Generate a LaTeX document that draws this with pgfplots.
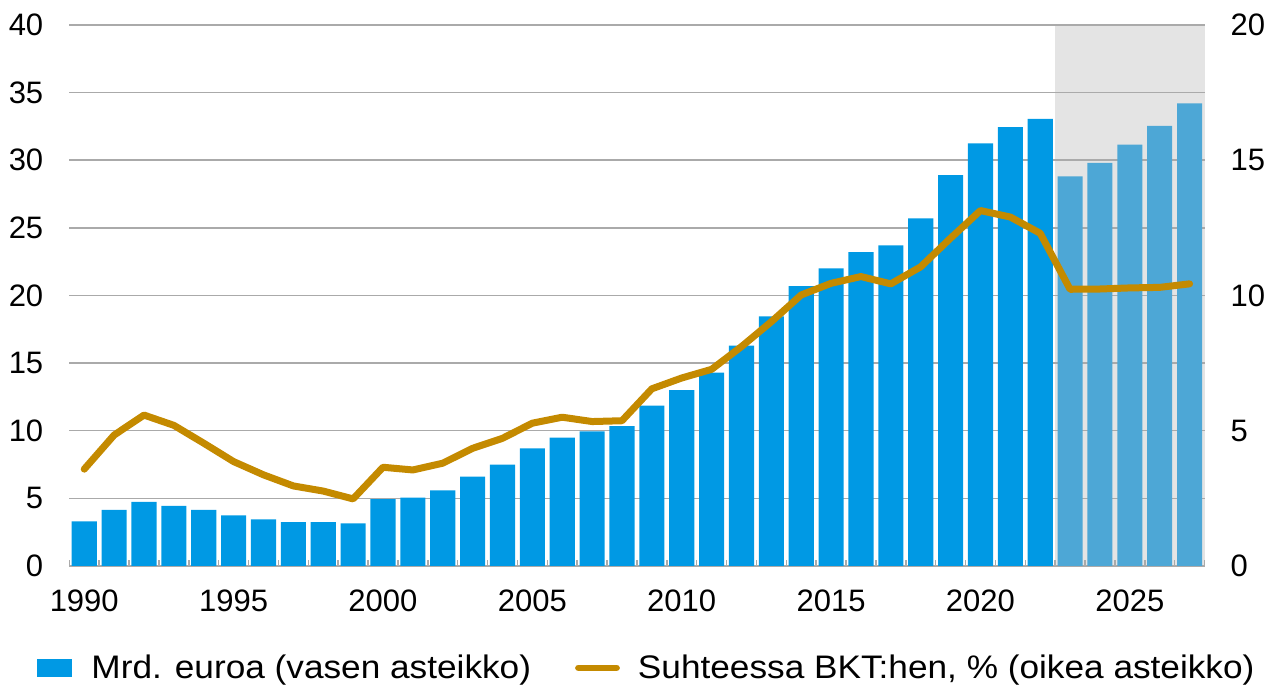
\documentclass[border=0pt]{standalone}
\usepackage{fontspec}
\setmainfont{Liberation Sans}[FakeStretch=1.08]
\newfontfamily\tickfont{Liberation Sans}
\usepackage{pgfplots}
\pgfplotsset{compat=1.18}
\usepackage{pgfplotstable}
\definecolor{barblue}{RGB}{0,153,228}
\definecolor{fcblue}{RGB}{77,167,214}
\definecolor{shade}{RGB}{228,228,228}
\definecolor{gold}{RGB}{196,138,0}
\definecolor{gridgray}{RGB}{170,170,170}

% year, bars (Mrd. euroa), share of GDP (%)
\pgfplotstableread{
year val gdp
1990 3.30 3.58
1991 4.15 4.84
1992 4.75 5.58
1993 4.45 5.20
1994 4.15 4.54
1995 3.75 3.86
1996 3.45 3.37
1997 3.25 2.96
1998 3.25 2.77
1999 3.15 2.48
2000 4.95 3.65
2001 5.05 3.55
2002 5.60 3.80
2003 6.60 4.35
2004 7.50 4.72
2005 8.70 5.28
2006 9.50 5.50
2007 9.95 5.34
2008 10.35 5.37
2009 11.85 6.55
2010 13.00 6.95
2011 14.30 7.27
2012 16.30 8.11
2013 18.45 9.03
2014 20.70 10.02
2015 22.00 10.45
2016 23.20 10.70
2017 23.70 10.43
2018 25.70 11.06
2019 28.90 12.12
2020 31.25 13.14
2021 32.45 12.90
2022 33.05 12.30
2023 28.80 10.23
2024 29.80 10.24
2025 31.15 10.28
2026 32.55 10.30
2027 34.20 10.43
}\data

\pgfplotsset{
  twin/.style={scale only axis, width=567.6pt, height=270.5pt,
    xmin=1989.5, xmax=2027.5,
    tick label style={font=\tickfont\fontsize{15.5}{18}\selectfont, black}},
}

\begin{document}
\begin{tikzpicture}
\begin{axis}[twin, name=ax, set layers,
  ymin=0, ymax=40,
  ytick={0,5,...,40}, yticklabels={0,5,10,15,20,25,30,35,40},
  xtick={1990,1995,...,2025},
  xticklabels={1990,1995,2000,2005,2010,2015,2020,2025},
  minor xtick={1989.5,1990.5,...,2027.5},
  axis x line*=bottom, axis y line*=left,
  x axis line style={gridgray, line width=0.75pt, -},
  y axis line style={draw=none},
  major tick length=0pt, minor tick length=3pt, tick align=inside,
  minor tick style={gridgray, line width=0.75pt},
  ytick style={draw=none},
  ymajorgrids, grid style={gridgray, line width=0.75pt},
  xticklabel style={yshift=-8.5pt},
  yticklabel style={xshift=-9.5pt},
]
\addplot[on layer=axis background, fill=shade, draw=none, forget plot]
  coordinates {(2022.5,40) (2027.5,40)} \closedcycle;
\addplot[ybar, bar width=0.84, bar shift=0pt, fill=barblue, draw=none,
  restrict x to domain=1989:2022.4] table[x=year, y=val] {\data};
\addplot[ybar, bar width=0.84, bar shift=0pt, fill=fcblue, draw=none,
  restrict x to domain=2022.6:2028] table[x=year, y=val] {\data};
\end{axis}

\begin{axis}[twin,
  ymin=0, ymax=20,
  ytick={0,5,...,20}, yticklabels={0,5,10,15,20},
  xtick=\empty,
  axis y line*=right, axis x line=none,
  y axis line style={draw=none}, ytick style={draw=none},
  yticklabel style={xshift=9.5pt},
  legend columns=2,
  legend style={at={(0.5094,-0.1885)}, anchor=center, draw=none, fill=none,
    font=\fontsize{16.3}{19}\selectfont,
    /tikz/every even column/.append style={column sep=20pt}},
]
\addlegendimage{legend image code/.code={%
  \fill[barblue] (0pt,-4.25pt) rectangle (17pt,4.25pt);
  \path (25pt,0pt);}}
\addlegendentry{Mrd. euroa (vasen asteikko)}
\addplot[gold, line width=3.5pt, line join=round, line cap=round,
  legend image code/.code={%
    \draw[gold, line width=3.4pt, line cap=round] (0pt,0pt) -- (19pt,0pt);
    \path (26pt,0pt);}]
  table[x=year, y=gdp] {\data};
\addlegendentry{Suhteessa BKT:hen, \% (oikea asteikko)}
\end{axis}

\pgfresetboundingbox
\path[use as bounding box] ([shift={(-34.65pt,-61.5pt)}]ax.south west)
  rectangle ([shift={(605.35pt,283pt)}]ax.south west);
\end{tikzpicture}
\end{document}
